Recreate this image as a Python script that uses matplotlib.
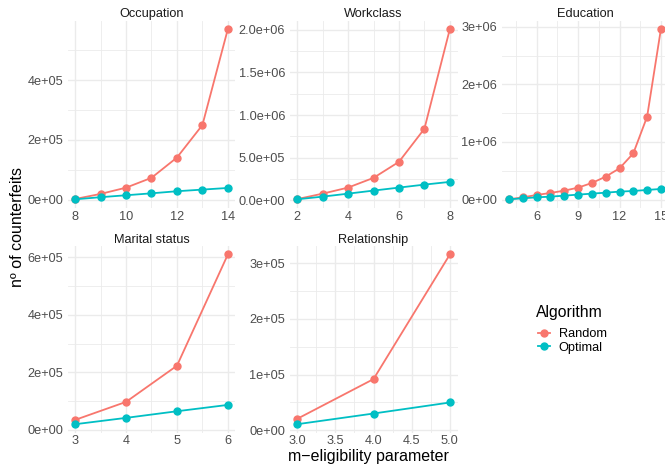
"""Counterfeit counts vs m-eligibility, random vs optimal, one panel per attribute."""

import matplotlib.pyplot as plt
from matplotlib.lines import Line2D

plt.rcParams["font.family"] = ["Liberation Sans", "DejaVu Sans"]

RED = "#F8766D"
CYAN = "#00BFC4"
GRID = "#EBEBEB"

# Occupation
occ_m = [8, 9, 10, 11, 12, 13, 14]
occ_random = [2000, 19000, 40000, 73000, 141000, 250000, 572000]
occ_optimal = [1000, 8000, 14500, 21000, 28000, 33500, 39000]

# Workclass
work_m = [2, 3, 4, 5, 6, 7, 8]
work_random = [14000, 78000, 149000, 263000, 451000, 839000, 2008000]
work_optimal = [12000, 43000, 78000, 114000, 149000, 184000, 216000]

# Education
edu_m = [4, 5, 6, 7, 8, 9, 10, 11, 12, 13, 14, 15]
edu_random = [6000, 40000, 81000, 116000, 156000, 208000, 289000, 399000,
              543000, 803000, 1439000, 2960000]
edu_optimal = [6000, 23000, 40000, 52000, 69000, 87000, 104000, 121000,
               139000, 150000, 168000, 185000]

# Marital status
mar_m = [3, 4, 5, 6]
mar_random = [35000, 97500, 223000, 609000]
mar_optimal = [20000, 42000, 65000, 87000]

# Relationship
rel_m = [3, 4, 5]
rel_random = [20400, 91800, 315600]
rel_optimal = [10800, 30000, 49800]

panels = [
    ("Occupation", occ_m, occ_random, occ_optimal,
     [8, 10, 12, 14], ["8", "10", "12", "14"], [9, 11, 13],
     [0, 2e5, 4e5], ["0e+00", "2e+05", "4e+05"], [1e5, 3e5, 5e5]),
    ("Workclass", work_m, work_random, work_optimal,
     [2, 4, 6, 8], ["2", "4", "6", "8"], [3, 5, 7],
     [0, 5e5, 1e6, 1.5e6, 2e6],
     ["0.0e+00", "5.0e+05", "1.0e+06", "1.5e+06", "2.0e+06"],
     [2.5e5, 7.5e5, 1.25e6, 1.75e6]),
    ("Education", edu_m, edu_random, edu_optimal,
     [6, 9, 12, 15], ["6", "9", "12", "15"], [4.5, 7.5, 10.5, 13.5],
     [0, 1e6, 2e6, 3e6], ["0e+00", "1e+06", "2e+06", "3e+06"],
     [5e5, 1.5e6, 2.5e6]),
    ("Marital status", mar_m, mar_random, mar_optimal,
     [3, 4, 5, 6], ["3", "4", "5", "6"], [3.5, 4.5, 5.5],
     [0, 2e5, 4e5, 6e5], ["0e+00", "2e+05", "4e+05", "6e+05"],
     [1e5, 3e5, 5e5]),
    ("Relationship", rel_m, rel_random, rel_optimal,
     [3, 3.5, 4, 4.5, 5], ["3.0", "3.5", "4.0", "4.5", "5.0"],
     [3.25, 3.75, 4.25, 4.75],
     [0, 1e5, 2e5, 3e5], ["0e+00", "1e+05", "2e+05", "3e+05"],
     [5e4, 1.5e5, 2.5e5]),
]

W, H = 665, 467
fig = plt.figure(figsize=(W / 100, H / 100), dpi=100)

# panel boxes in pixels: (left, right), (top, bottom)
cols = [(67.5, 235.5), (289.5, 457.5), (501.5, 668.5)]
rows = [(20.5, 207.8), (246.0, 432.7)]

for i, (title, m, rnd, opt, xt, xtl, xmin, yt, ytl, ymin) in enumerate(panels):
    (l, r), (t, b) = cols[i % 3], rows[i // 3]
    ax = fig.add_axes([l / W, 1 - b / H, (r - l) / W, (b - t) / H])
    ax.plot(m, rnd, color=RED, lw=1.3, marker="o", ms=5.0, zorder=3)
    ax.plot(m, opt, color=CYAN, lw=1.3, marker="o", ms=5.0, zorder=3)
    ax.margins(0.05)
    ax.set_xticks(xt, xtl)
    ax.set_xticks(xmin, minor=True)
    ax.set_yticks(yt, ytl)
    ax.set_yticks(ymin, minor=True)
    ax.grid(True, which="major", color=GRID, lw=1.0)
    ax.grid(True, which="minor", color=GRID, lw=0.6)
    ax.set_axisbelow(True)
    for s in ax.spines.values():
        s.set_visible(False)
    ax.tick_params(which="both", length=0, labelsize=9.2, labelcolor="#4D4D4D")
    ax.tick_params(axis="y", pad=3.2)
    ax.tick_params(axis="x", pad=2)
    ax.set_title(title, fontsize=9.2, color="#1A1A1A", pad=2.5)

fig.text(368 / W, 1 - 457 / H, "m\u2212eligibility parameter",
         ha="center", va="center", fontsize=11.5)
fig.text(18 / W, 1 - 226.6 / H, "nº of counterfeits", rotation=90,
         ha="center", va="center", fontsize=11.5)

# legend: title placed on its own for the wider gap above the keys
fig.text(536 / W, 1 - 313 / H, "Algorithm", ha="left", va="center",
         fontsize=11.3)
handles = [
    Line2D([], [], color=RED, lw=1.3, marker="o", ms=5.0, label="Random"),
    Line2D([], [], color=CYAN, lw=1.3, marker="o", ms=5.0, label="Optimal"),
]
fig.legend(handles=handles, loc="upper left",
           bbox_to_anchor=(533 / W, 1 - 323 / H), borderaxespad=0,
           frameon=False, fontsize=9.2, handlelength=0.9,
           handletextpad=0.7, labelspacing=0.12)

fig.savefig("out.png", dpi=100)
